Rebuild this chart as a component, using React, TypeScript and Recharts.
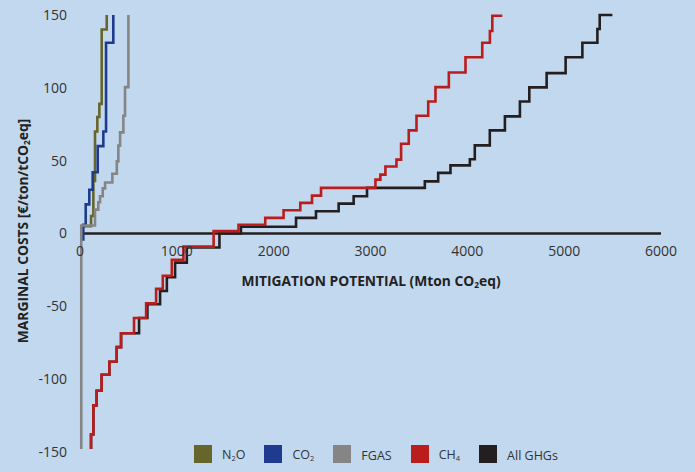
import React from 'react';
import { LineChart, Line, XAxis, YAxis, ReferenceLine, ReferenceDot } from 'recharts';

// ---------- data (cumulative potential in Mton CO2eq, marginal cost in €/tCO2eq) ----------
const n2oX = [20, 114, 138, 155, 179, 200, 224, 276];
const n2oY = [5, 12, 36, 70, 80, 89, 140, 150];

const co2X = [34, 34, 59, 96, 131, 183, 241, 269, 344];
const co2Y = [-5, 6, 20, 30, 42, 60, 70, 131, 150];

const fgasX = [13, 13, 155, 189, 207, 235, 259, 334, 380, 396, 414, 448, 465, 500];
const fgasY = [-148, 5.5, 16.4, 21.5, 25.6, 31, 35, 41, 49.5, 60.3, 69.4, 80.8, 100.5, 150];

const ch4X = [114, 114, 138, 172, 224, 303, 379, 424, 558, 683, 786, 855, 948, 1068, 1380, 1637, 1913, 2102, 2275, 2396, 2489, 3051, 3102, 3154, 3268, 3316, 3395, 3475, 3596, 3671, 3809, 3981, 4154, 4233, 4258, 4361];
const ch4Y = [-148, -138, -118, -108, -97, -88, -78, -68.5, -58, -48, -38, -29, -18, -9, 1.6, 6, 10.7, 16, 21, 26, 31.3, 37, 40.4, 46, 50.7, 61.6, 70.8, 80.8, 90.6, 100.5, 110.5, 121, 131, 139, 149.5, 149.5];

const allX = [114, 114, 138, 172, 224, 303, 379, 424, 610, 696, 827, 897, 982, 1103, 1440, 1662, 2231, 2437, 2671, 2826, 2964, 3561, 3699, 3826, 4026, 4077, 4232, 4388, 4543, 4640, 4819, 5015, 5188, 5343, 5367, 5498];
const allY = [-148, -138, -118, -108, -97, -88, -78, -68.5, -58, -48.6, -39.5, -30, -20, -9.6, 0, 4.6, 10.7, 15.3, 20.5, 25.6, 31.3, 35.8, 41.6, 46.8, 51, 60.5, 70.8, 80.4, 90.6, 100.3, 110.1, 121, 131, 140.4, 150, 150];

const xTicks = [0, 1000, 2000, 3000, 4000, 5000, 6000];
const yTicks = [-150, -100, -50, 0, 50, 100, 150];

const seriesNames = ['N₂O', 'CO₂', 'FGAS', 'CH₄', 'All GHGs'];
const seriesColors = ['#66652b', '#1f3b8f', '#858585', '#bb1c1c', '#231f20'];

const xTitle = 'MITIGATION POTENTIAL (Mton CO₂eq)';
const yTitle = 'MARGINAL COSTS [€/ton/tCO₂eq]';

// ---------- helpers ----------
const toPts = (xs: number[], ys: number[]) => xs.map((x, i) => ({ x, y: ys[i] }));
const SUB: Record<string, string> = { '₂': '2', '₄': '4' };
const withSubs = (s: string, subSize: string) =>
  Array.from(s).map((c, i) =>
    SUB[c] ? (
      <sub key={i} style={{ fontSize: subSize, verticalAlign: 'baseline', position: 'relative', top: '0.3em' }}>
        {SUB[c]}
      </sub>
    ) : (
      <React.Fragment key={i}>{c}</React.Fragment>
    )
  );

const FONT = '"Open Sans", sans-serif';
const BG = '#c2d8ee';

const series = [
  { name: seriesNames[0], color: seriesColors[0], data: toPts(n2oX, n2oY) },
  { name: seriesNames[1], color: seriesColors[1], data: toPts(co2X, co2Y) },
  { name: seriesNames[2], color: seriesColors[2], data: toPts(fgasX, fgasY) },
  { name: seriesNames[4], color: seriesColors[4], data: toPts(allX, allY) },
  { name: seriesNames[3], color: seriesColors[3], data: toPts(ch4X, ch4Y) },
];

export default function App() {
  return (
    <div style={{ position: 'absolute', left: 0, top: 0, width: 695, height: 472, background: BG, fontFamily: FONT, overflow: 'hidden' }}>
      <style>{'body{margin:0;background:' + BG + ';}'}</style>
      <LineChart width={695} height={472} margin={{ top: 15, right: 34, bottom: 20, left: 0 }}>
        <XAxis type="number" dataKey="x" domain={[0, 6000]} ticks={xTicks} hide />
        <YAxis
          type="number"
          dataKey="y"
          domain={[-150, 150]}
          ticks={yTicks}
          width={80}
          axisLine={false}
          tickLine={false}
          tickMargin={7}
          tick={{ fill: '#333', fontSize: 14, fontFamily: FONT }}
        />
        <ReferenceLine y={0} stroke="#231f20" strokeWidth={2.5} />
        {xTicks.map((t) => (
          <ReferenceDot
            key={t}
            x={t}
            y={0}
            r={0}
            fill="none"
            stroke="none"
            label={{ value: String(t), position: 'bottom', offset: 13, fill: '#333', fontSize: 14, fontFamily: FONT }}
          />
        ))}
        {series.map((s) => (
          <Line
            key={s.name}
            data={s.data}
            dataKey="y"
            name={s.name}
            type="stepAfter"
            stroke={s.color}
            strokeWidth={2.6}
            dot={false}
            activeDot={false}
            isAnimationActive={false}
          />
        ))}
      </LineChart>

      {/* axis titles */}
      <div
        style={{
          position: 'absolute', left: 371, top: 280, transform: 'translate(-50%,-50%)',
          fontWeight: 700, fontSize: 13.8, color: '#222', whiteSpace: 'nowrap',
        }}
      >
        {withSubs(xTitle, '0.6em')}
      </div>
      <div
        style={{
          position: 'absolute', left: 22, top: 231, transform: 'translate(-50%,-50%) rotate(-90deg)',
          fontWeight: 700, fontSize: 13.8, color: '#222', whiteSpace: 'nowrap',
        }}
      >
        {withSubs(yTitle, '0.6em')}
      </div>

      {/* legend */}
      <div style={{ position: 'absolute', left: 194, top: 444, display: 'flex', alignItems: 'center', height: 19 }}>
        {seriesNames.map((n, i) => (
          <div key={n} style={{ display: 'flex', alignItems: 'center', marginRight: 19 }}>
            <div style={{ width: 18, height: 18, background: seriesColors[i], marginRight: 10 }} />
            <span style={{ fontSize: 12.5, color: '#333', lineHeight: '19px', position: 'relative', top: 2 }}>
              {withSubs(n, '0.6em')}
            </span>
          </div>
        ))}
      </div>
    </div>
  );
}
